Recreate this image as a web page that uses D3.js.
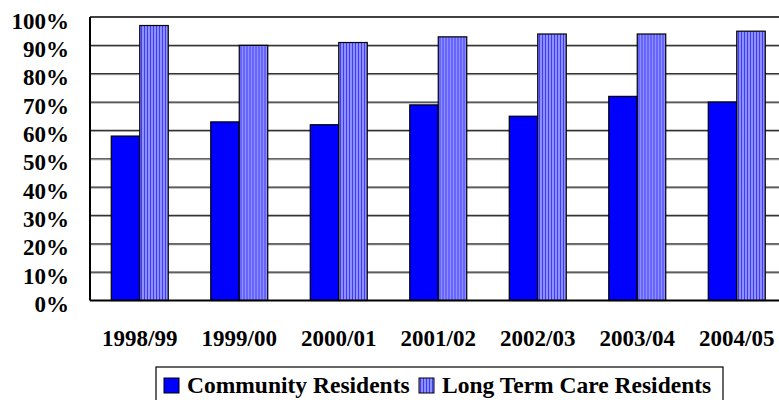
<!DOCTYPE html>
<html>
<head>
<meta charset="utf-8">
<script src="https://cdn.jsdelivr.net/npm/d3@7"></script>
<style>
html,body{margin:0;padding:0;background:#fff;}
svg{display:block;}
</style>
</head>
<body>
<svg id="chart" width="779" height="400"></svg>
<script>
const categories = ["1998/99","1999/00","2000/01","2001/02","2002/03","2003/04","2004/05"];
const seriesNames = ["Community Residents","Long Term Care Residents"];
const community = [0.58,0.63,0.62,0.69,0.65,0.72,0.70];
const longTermCare = [0.97,0.90,0.91,0.93,0.94,0.94,0.95];
const yTicks = [0,0.1,0.2,0.3,0.4,0.5,0.6,0.7,0.8,0.9,1.0];

(function(){
const FONT = "'Liberation Serif','Times New Roman',Times,serif";
const svg = d3.select("#chart");
const pLeft = 90, pRight = 786.5, pTop = 17, pBottom = 300.5;

const defs = svg.append("defs");
const pat = defs.append("pattern").attr("id","stripes")
  .attr("patternUnits","userSpaceOnUse").attr("width",3).attr("height",10);
pat.append("rect").attr("width",3).attr("height",10).attr("fill","#8f8fff");
pat.append("rect").attr("width",1).attr("height",10).attr("fill","#3c3cff");

const x0 = d3.scaleBand().domain(categories).range([pLeft,pRight]).padding(0);
const x1 = d3.scaleBand().domain(seriesNames).range([0,x0.bandwidth()]).paddingInner(0).paddingOuter(0.746);
const y = d3.scaleLinear().domain([0,1]).range([pBottom,pTop]);

svg.append("rect").attr("x",pLeft).attr("y",pTop).attr("width",pRight-pLeft).attr("height",pBottom-pTop)
  .attr("fill","#fff");

const inner = yTicks.filter(d=>d>0&&d<1);
const grid = svg.append("g");
grid.selectAll("line.g2").data(inner).enter().append("line").attr("class","g2")
  .attr("x1",pLeft).attr("x2",pRight).attr("y1",d=>y(d)+1).attr("y2",d=>y(d)+1)
  .attr("stroke","#9a9a9a").attr("stroke-width",1);
grid.selectAll("line.g1").data(inner).enter().append("line").attr("class","g1")
  .attr("x1",pLeft).attr("x2",pRight).attr("y1",d=>y(d)).attr("y2",d=>y(d))
  .attr("stroke","#333").attr("stroke-width",1.2);

const data = categories.map((c,i)=>({cat:c, vals:[{s:seriesNames[0],v:community[i]},{s:seriesNames[1],v:longTermCare[i]}]}));
const groups = svg.append("g").selectAll("g").data(data).enter().append("g")
  .attr("transform",d=>`translate(${x0(d.cat)},0)`);
groups.selectAll("rect").data(d=>d.vals).enter().append("rect")
  .attr("x",d=>x1(d.s)).attr("width",x1.bandwidth())
  .attr("y",d=>y(d.v)).attr("height",d=>y(0)-y(d.v))
  .attr("fill",d=>d.s===seriesNames[0]?"#0000ff":"url(#stripes)")
  .attr("stroke","#000").attr("stroke-width",1.2);

svg.append("line").attr("x1",pLeft).attr("x2",pRight).attr("y1",pTop).attr("y2",pTop).attr("stroke","#000").attr("stroke-width",1.5);
svg.append("line").attr("x1",pLeft).attr("x2",pLeft).attr("y1",pTop).attr("y2",pBottom).attr("stroke","#000").attr("stroke-width",2);
svg.append("line").attr("x1",pLeft).attr("x2",pRight).attr("y1",pBottom).attr("y2",pBottom).attr("stroke","#000").attr("stroke-width",2);

const yAxis = d3.axisLeft(y).tickValues(yTicks).tickFormat(d3.format(".0%")).tickSize(0).tickPadding(21);
const ya = svg.append("g").attr("transform",`translate(${pLeft},0)`).call(yAxis)
  .attr("font-family",null).attr("font-size",null);
ya.select(".domain").remove();
ya.selectAll("text").style("font-size","23px").style("font-family",FONT)
  .style("font-weight","bold").attr("fill","#000").attr("dy","0.48em");

const xAxis = d3.axisBottom(x0).tickSize(0).tickPadding(29);
const xa = svg.append("g").attr("transform",`translate(0,${pBottom})`).call(xAxis)
  .attr("font-family",null).attr("font-size",null);
xa.select(".domain").remove();
xa.selectAll("text").style("font-size","23px").style("font-family",FONT)
  .style("font-weight","bold").attr("fill","#000");

const lg = svg.append("g");
lg.append("rect").attr("x",156).attr("y",367).attr("width",567).attr("height",40)
  .attr("fill","#fff").attr("stroke","#000").attr("stroke-width",1.2);
const legendItems = [{s:seriesNames[0],x:164,tx:187},{s:seriesNames[1],x:419,tx:442}];
legendItems.forEach(it=>{
  lg.append("rect").attr("x",it.x).attr("y",378).attr("width",15).attr("height",15)
    .attr("fill",it.s===seriesNames[0]?"#0000ff":"url(#stripes)").attr("stroke","#000").attr("stroke-width",1);
  lg.append("text").attr("x",it.tx).attr("y",393)
    .style("font-size","23.5px").style("font-family",FONT).style("font-weight","bold").attr("fill","#000")
    .text(it.s);
});
})();
</script>
</body>
</html>
